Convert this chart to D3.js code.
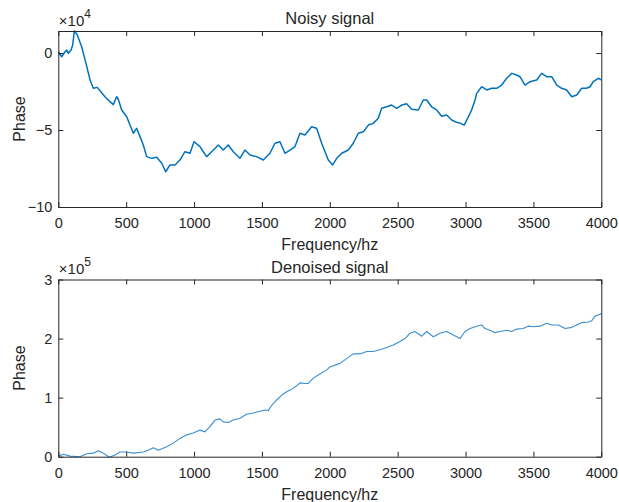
<!DOCTYPE html>
<html>
<head>
<meta charset="utf-8">
<script src="https://cdn.jsdelivr.net/npm/d3@7"></script>
<style>
  html, body { margin: 0; padding: 0; background: #fff; }
  svg { display: block; font-family: "Liberation Sans", Arial, Helvetica, sans-serif; }
</style>
</head>
<body>
<svg id="chart" width="619" height="502"></svg>
<script>
// Noisy phase spectrum (values in units of 1e4)
const noisyFreq = [0,25,50,62,74,94,106,118,140,172,204,234,258,287,307,344,381,405,430,442,467,504,528,553,577,602,626,651,688,725,762,791,823,860,896,933,970,1000,1044,1068,1093,1130,1179,1215,1252,1289,1338,1375,1412,1461,1510,1559,1596,1633,1670,1707,1743,1780,1817,1866,1903,1940,1989,2021,2051,2088,2136,2173,2210,2247,2284,2320,2357,2382,2419,2456,2493,2530,2566,2603,2652,2689,2714,2750,2787,2824,2861,2898,2934,2965,2990,3015,3045,3070,3082,3119,3156,3192,3229,3266,3303,3340,3377,3401,3438,3475,3524,3561,3598,3635,3672,3708,3745,3782,3819,3856,3892,3917,3941,3978,4000];
const noisyPhase = [0.08,-0.24,0.08,0.2,-0.02,0.2,0.52,1.43,1.17,0.41,-0.67,-1.75,-2.29,-2.23,-2.45,-2.84,-3.16,-3.35,-2.84,-3.0,-3.70,-4.14,-4.68,-5.21,-4.89,-5.43,-5.97,-6.73,-6.84,-6.77,-7.16,-7.71,-7.27,-7.27,-6.95,-6.41,-6.51,-5.76,-6.08,-6.41,-6.73,-6.41,-5.97,-6.30,-5.97,-6.41,-6.84,-6.30,-6.62,-6.73,-6.95,-6.51,-5.86,-5.76,-6.51,-6.30,-6.08,-5.21,-5.32,-4.79,-4.89,-5.86,-6.95,-7.27,-6.84,-6.51,-6.30,-5.86,-5.21,-5.11,-4.68,-4.57,-4.24,-3.59,-3.49,-3.38,-3.59,-3.38,-3.30,-3.65,-3.70,-3.05,-3.05,-3.49,-3.70,-4.10,-4.03,-4.35,-4.50,-4.57,-4.68,-4.24,-3.70,-3.05,-2.62,-2.19,-2.40,-2.29,-2.29,-2.08,-1.64,-1.32,-1.43,-1.54,-2.08,-1.86,-1.75,-1.32,-1.54,-1.54,-2.08,-2.29,-2.40,-2.84,-2.73,-2.29,-2.29,-2.19,-1.86,-1.64,-1.75];

// Denoised phase spectrum (values in units of 1e5)
const denoisedFreq = [0,37,86,160,209,258,295,332,376,418,455,504,553,626,663,700,737,798,847,896,946,994,1044,1080,1117,1154,1191,1215,1252,1289,1338,1387,1436,1486,1522,1547,1572,1609,1645,1682,1719,1756,1780,1817,1841,1878,1927,1977,2001,2075,2124,2173,2222,2272,2320,2370,2419,2468,2517,2554,2591,2627,2677,2714,2762,2812,2861,2910,2959,2996,3033,3082,3119,3143,3180,3217,3254,3303,3340,3377,3425,3462,3499,3548,3598,3635,3684,3733,3782,3819,3856,3905,3929,3954,3991,4000];
const denoisedPhase = [0.01,0.04,0.01,0.0,0.05,0.06,0.10,0.06,-0.01,0.03,0.08,0.08,0.06,0.08,0.11,0.15,0.11,0.17,0.23,0.31,0.37,0.40,0.45,0.42,0.51,0.62,0.64,0.59,0.58,0.62,0.65,0.72,0.74,0.77,0.79,0.78,0.87,0.96,1.04,1.10,1.14,1.20,1.25,1.24,1.24,1.33,1.40,1.47,1.52,1.58,1.66,1.74,1.74,1.78,1.78,1.81,1.85,1.89,1.95,2.00,2.09,2.12,2.04,2.12,2.03,2.09,2.12,2.06,2.00,2.12,2.17,2.21,2.23,2.17,2.14,2.10,2.12,2.14,2.12,2.16,2.17,2.21,2.20,2.21,2.26,2.23,2.23,2.17,2.19,2.23,2.27,2.28,2.30,2.38,2.41,2.43];

const xTicks = [0,500,1000,1500,2000,2500,3000,3500,4000];
const noisyYTicks = [-10,-5,0];
const denoisedYTicks = [0,1,2,3];

const panels = [
  { title: "Noisy signal", exp: "4", top: 31, bottom: 207, yDomain: [-10, 1.43],
    yTicks: noisyYTicks, freq: noisyFreq, phase: noisyPhase, stroke: "#0072BD", width: 1.5 },
  { title: "Denoised signal", exp: "5", top: 279.5, bottom: 456.7, yDomain: [0, 3],
    yTicks: denoisedYTicks, freq: denoisedFreq, phase: denoisedPhase, stroke: "#3a8fd2", width: 1.1 }
];

const svg = d3.select("#chart");
const left = 58.3, right = 601.3;
const ink = "#262626";
const fmt = d3.format("d");

panels.forEach(p => {
  const x = d3.scaleLinear().domain([0, 4000]).range([left, right]);
  const y = d3.scaleLinear().domain(p.yDomain).range([p.bottom, p.top]);
  const g = svg.append("g");

  // data line, clipped to the axes box
  const clipId = "clip-" + p.exp;
  svg.append("clipPath").attr("id", clipId).append("rect")
    .attr("x", left).attr("y", p.top - 1).attr("width", right - left).attr("height", p.bottom - p.top + 2);
  const pts = p.freq.map((f, i) => [f, p.phase[i]]);
  g.append("path")
    .datum(pts)
    .attr("clip-path", `url(#${clipId})`)
    .attr("fill", "none")
    .attr("stroke", p.stroke)
    .attr("stroke-width", p.width)
    .attr("stroke-linejoin", "round")
    .attr("d", d3.line().x(d => x(d[0])).y(d => y(d[1])));

  // axes: bottom/left with labels, top/right as tick-only box edges
  const tl = 5;
  const axB = g.append("g").attr("transform", `translate(0,${p.bottom})`)
    .call(d3.axisBottom(x).tickValues(xTicks).tickSize(-tl).tickPadding(11).tickSizeOuter(0).tickFormat(fmt));
  const axT = g.append("g").attr("transform", `translate(0,${p.top})`)
    .call(d3.axisTop(x).tickValues(xTicks).tickSize(-tl).tickFormat("").tickSizeOuter(0));
  const axL = g.append("g").attr("transform", `translate(${left},0)`)
    .call(d3.axisLeft(y).tickValues(p.yTicks).tickSize(-tl).tickPadding(6).tickSizeOuter(0).tickFormat(fmt));
  const axR = g.append("g").attr("transform", `translate(${right},0)`)
    .call(d3.axisRight(y).tickValues(p.yTicks).tickSize(-tl).tickFormat("").tickSizeOuter(0));
  [axB, axT, axL, axR].forEach(a => {
    a.selectAll("path").attr("stroke", ink).attr("stroke-width", 1);
    a.selectAll("line").attr("stroke", ink).attr("stroke-width", 1);
    a.selectAll("text").attr("fill", ink).style("font-size", "14.5px")
      .style("font-family", '"Liberation Sans", Arial, sans-serif');
  });

  // title
  svg.append("text").attr("x", (left + right) / 2).attr("y", p.top - 7)
    .attr("text-anchor", "middle").attr("fill", ink).style("font-size", "16.5px")
    .text(p.title);

  // x label
  svg.append("text").attr("x", (left + right) / 2).attr("y", p.bottom + 43)
    .attr("text-anchor", "middle").attr("fill", ink).style("font-size", "16px")
    .text("Frequency/hz");

  // y label
  svg.append("text")
    .attr("transform", `translate(25,${(p.top + p.bottom) / 2}) rotate(-90)`)
    .attr("text-anchor", "middle").attr("fill", ink).style("font-size", "16px")
    .text("Phase");

  // exponent marker
  const ex = svg.append("text").attr("x", left + 0.5).attr("y", p.top - 5.5)
    .attr("fill", ink).style("font-size", "15px");
  ex.append("tspan").text("\u00d710");
  ex.append("tspan").attr("dy", -8).style("font-size", "12px").text(p.exp);
});
</script>
</body>
</html>
